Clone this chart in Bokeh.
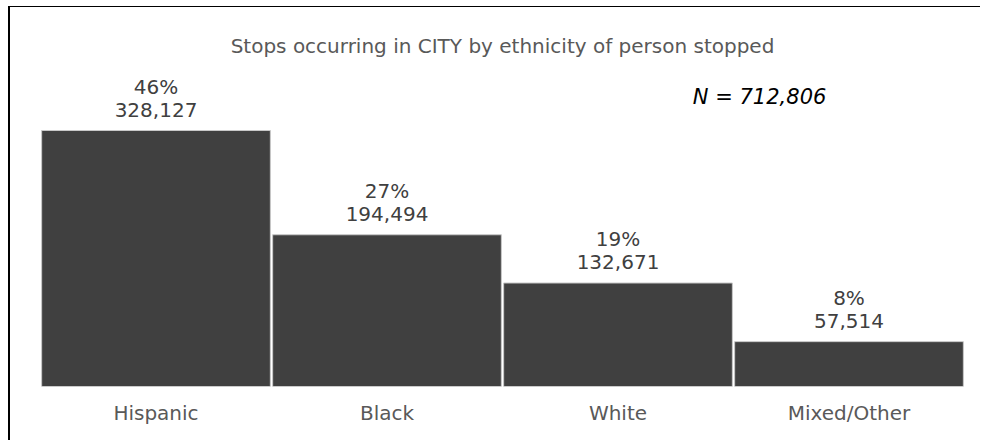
from bokeh.plotting import figure
from bokeh.models import ColumnDataSource, Range1d, FactorRange, Label
from bokeh.core.properties import value
from bokeh.embed import file_html
from bokeh.resources import INLINE

# ---- data ----
categories = ["Hispanic", "Black", "White", "Mixed/Other"]
counts = [328127, 194494, 132671, 57514]
percents = ["46%", "27%", "19%", "8%"]
count_labels = ["328,127", "194,494", "132,671", "57,514"]
total_label = "N = 712,806"
title_text = "Stops occurring in CITY by ethnicity of person stopped"

FONT = "DejaVu Sans"
GRAY = "#595959"
BAR = "#404040"

src = ColumnDataSource(dict(cat=categories, val=counts, pct=percents, cnt=count_labels))

p = figure(
    width=972, height=434,
    x_range=FactorRange(*categories, range_padding=0),
    y_range=Range1d(0, 408877),
    output_backend="svg", toolbar_location=None,
    min_border_left=30, min_border_right=18, min_border_top=60, min_border_bottom=55,
    title=title_text,
)
p.styles = {"margin-left": "8px", "margin-top": "6px",
            "border-left": "2px solid #000000", "border-top": "1px solid #000000"}

p.title.align = "center"
p.title.text_font = FONT
p.title.text_font_size = "20px"
p.title.text_font_style = "normal"
p.title.text_color = GRAY
p.title.standoff = 19

p.vbar(x="cat", top="val", width=0.99, source=src, fill_color=BAR,
       line_color="#c8c8c8", line_width=1)

p.text(x="cat", y="val", text="cnt", source=src, y_offset=-21,
       text_align="center", text_baseline="middle",
       text_font=value(FONT), text_font_size="20px", text_color=BAR)
p.text(x="cat", y="val", text="pct", source=src, y_offset=-44,
       text_align="center", text_baseline="middle",
       text_font=value(FONT), text_font_size="20px", text_color=BAR)

p.add_layout(Label(x=3.113, y=371500, text=total_label, text_align="center",
                   text_baseline="middle", text_font=FONT, text_font_size="21px",
                   text_font_style="italic", text_color="#000000"))

p.yaxis.visible = False
p.xgrid.visible = False
p.ygrid.visible = False
p.outline_line_color = None
p.xaxis.axis_line_color = None
p.xaxis.major_tick_line_color = None
p.xaxis.minor_tick_line_color = None
p.xaxis.major_label_text_font = FONT
p.xaxis.major_label_text_font_size = "20px"
p.xaxis.major_label_text_color = GRAY
p.xaxis.major_label_standoff = 8

open("out.html", "w").write(file_html(p, INLINE))
